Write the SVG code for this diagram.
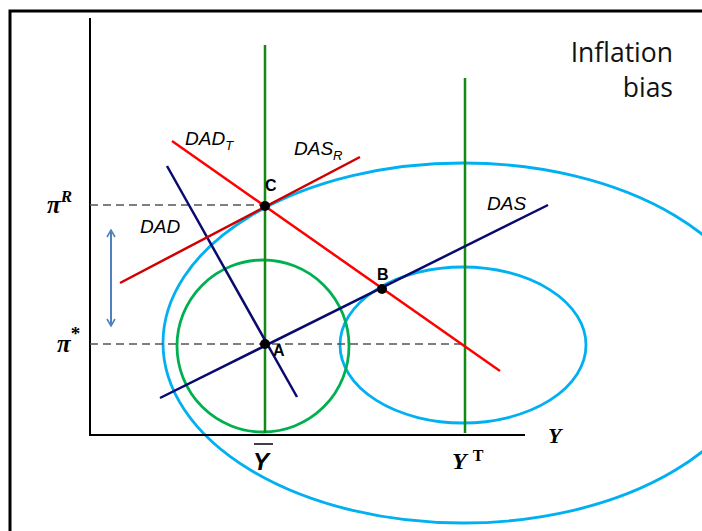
<svg xmlns="http://www.w3.org/2000/svg" width="702" height="531" viewBox="0 0 702 531">
<style>
.ax{stroke:#000;stroke-width:2;fill:none}
.dash{stroke:#555;stroke-width:1.3;stroke-dasharray:8 5;fill:none}
.vg{stroke:#138a13;stroke-width:2.5}
.ell{fill:none;stroke:#00b0f0;stroke-width:2.8}
.circ{fill:none;stroke:#00b050;stroke-width:2.8}
.navy{stroke:#0a0a6e;stroke-width:2.5}
.red{stroke:#ff0000;stroke-width:2.5}
.dred{stroke:#d00000;stroke-width:2.5}
.lab{font-family:"Liberation Sans",Arial,sans-serif;font-style:italic;font-size:19px;fill:#000}
.pt{font-family:"Liberation Sans",Arial,sans-serif;font-weight:bold;font-size:16px;fill:#000}
.sym{font-family:"Liberation Serif","Times New Roman",serif;font-weight:bold;font-style:italic;fill:#000}
.title{font-family:"Open Sans","Liberation Sans",sans-serif;font-size:26.5px;fill:#111}
</style>
<defs>
<marker id="ah" viewBox="0 0 10 10" refX="8" refY="5" markerWidth="5" markerHeight="5" orient="auto-start-reverse">
<path d="M1,1 L8,5 L1,9" fill="none" stroke="#4f81bd" stroke-width="1.6"/>
</marker>
</defs>
<rect x="0" y="0" width="702" height="531" fill="#fff"/>
<path d="M10,531 V11 H702" fill="none" stroke="#000" stroke-width="3"/>
<g id="curves">
<ellipse class="ell" cx="463" cy="343" rx="300" ry="180"/>
<ellipse class="ell" cx="463" cy="345" rx="123" ry="78"/>
<circle class="circ" cx="263" cy="346" r="86"/>
</g>
<g id="axes">
<line class="ax" x1="90" y1="18" x2="90" y2="436"/>
<line class="ax" x1="89" y1="435" x2="525" y2="435"/>
<line class="dash" x1="90" y1="205" x2="265" y2="205"/>
<line class="dash" x1="90" y1="344" x2="465" y2="344"/>
<line class="vg" x1="265" y1="45" x2="265" y2="433"/>
<line class="vg" x1="465" y1="78" x2="465" y2="433"/>
</g>
<g id="connectors">
<line class="navy" x1="167" y1="166" x2="297" y2="397"/>
<line class="navy" x1="160" y1="398" x2="548" y2="205"/>
<line class="red" x1="172" y1="141" x2="500" y2="371"/>
<line class="dred" x1="120" y1="283" x2="360" y2="157"/>
<line x1="111" y1="230" x2="111" y2="326" stroke="#4f81bd" stroke-width="2" marker-start="url(#ah)" marker-end="url(#ah)"/>
</g>
<g id="nodeC"><circle cx="265" cy="206" r="5"/><text class="pt" x="265" y="191">C</text></g>
<g id="nodeB"><circle cx="382" cy="289" r="5"/><text class="pt" x="377" y="280">B</text></g>
<g id="nodeA"><circle cx="265" cy="344" r="5"/><text class="pt" x="273" y="356">A</text></g>
<g id="labels">
<text class="lab" x="185" y="145">DAD<tspan font-size="13" dy="5">T</tspan></text>
<text class="lab" x="294" y="155">DAS<tspan font-size="13" dy="5">R</tspan></text>
<text class="lab" x="140" y="233">DAD</text>
<text class="lab" x="487" y="210">DAS</text>
<text class="sym" x="47" y="213" font-size="25">π<tspan font-size="17" dy="-11">R</tspan></text>
<text class="sym" x="57" y="352" font-size="25">π<tspan font-size="19" dy="-12" font-style="normal">*</tspan></text>
<text x="253" y="470" font-family="Liberation Sans, Arial, sans-serif" font-weight="bold" font-style="italic" font-size="24">Y</text>
<line x1="254" y1="444" x2="273" y2="444" stroke="#000" stroke-width="1.5"/>
<text class="sym" x="452" y="469" font-size="24">Y<tspan font-style="normal" font-size="16" dx="6" dy="-8">T</tspan></text>
<text class="sym" x="548" y="443" font-size="22">Y</text>
<text class="title" x="673" y="62" text-anchor="end">Inflation</text>
<text class="title" x="673" y="97" text-anchor="end">bias</text>
</g>
</svg>
